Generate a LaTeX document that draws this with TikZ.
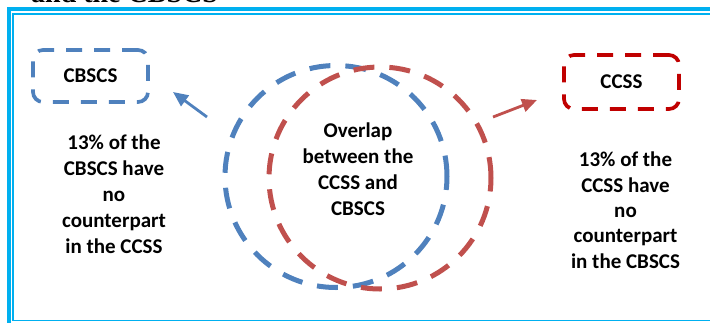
\documentclass[tikz,border=0pt]{standalone}
\usepackage{fontspec}
\setmainfont{Carlito}
\newfontfamily\titleserif{Liberation Serif}
\usetikzlibrary{arrows.meta}
\definecolor{framecyan}{HTML}{00B0F0}
\definecolor{setblue}{HTML}{4F81BD}
\definecolor{setred}{HTML}{C0504D}
\definecolor{boxred}{HTML}{C00000}
\tikzset{
  lbl/.style={font=\bfseries\fontsize{21}{25.8}\selectfont, align=center, inner sep=0pt, anchor=base},
  setbox/.style={rectangle, rounded corners=10pt, minimum width=115pt, inner sep=0pt,
    line width=3.7pt, dash pattern=on 16pt off 12pt, font=\bfseries\fontsize{21}{25.8}\selectfont},
  setcirc/.style={circle, minimum size=222pt, inner sep=0pt, line width=5pt, dash pattern=on 21pt off 15pt},
  pointer/.style={line width=2.8pt, -{Triangle[length=15pt,width=13pt]}}
}
\begin{document}
\begin{tikzpicture}[x=1pt,y=-1pt]
\useasboundingbox (0,0) rectangle (710,322);
\clip (0,0) rectangle (710,322);
% partial title
\node[anchor=base west, inner sep=0pt, font=\titleserif\bfseries\fontsize{28}{30}\selectfont] (title) at (31,2.5) {and the CBSCS};
% frame
\draw[framecyan, line width=4pt] (9,9) rectangle (730,340);
\draw[framecyan, line width=1.7pt] (13,14) rectangle (725,320.5);
% circles
\node[setcirc, draw=setblue] (cbscsset) at (336,176.5) {};
\node[setcirc, draw=setred] (ccssset) at (380,178) {};
% boxes
\node[setbox, draw=setblue, minimum height=52pt] (cbscs) at (90.5,76) {CBSCS};
\node[setbox, draw=boxred, minimum height=54pt] (ccss) at (621.5,82) {CCSS};
% texts (anchor base = baseline of the last line)
\node[lbl] (overlap) at (358,215) {Overlap\\between the\\CCSS and\\CBSCS};
\node[lbl] (leftnote) at (114,253) {13\% of the\\CBSCS have\\no\\counterpart\\in the CCSS};
\node[lbl, font=\bfseries\fontsize{21}{25.3}\selectfont] (rightnote) at (625.5,268) {13\% of the\\CCSS have\\no\\counterpart\\in the CBSCS};
% arrows
\coordinate (bluefrom) at (207,117);
\coordinate (blueto) at (173,92);
\coordinate (redfrom) at (493,117);
\coordinate (redto) at (537,100);
\draw[pointer, setblue] (bluefrom) -- (blueto);
\draw[pointer, setred] (redfrom) -- (redto);
\end{tikzpicture}
\end{document}
